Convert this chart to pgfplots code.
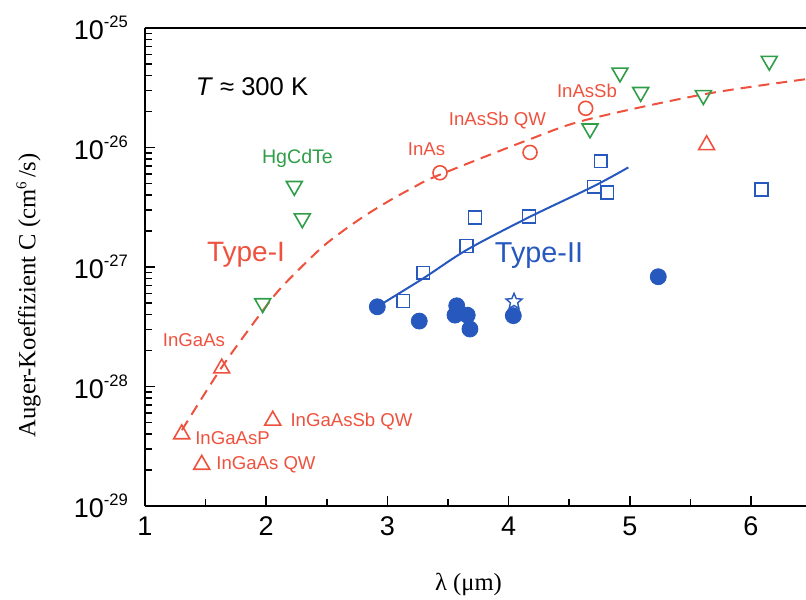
\documentclass[border=0pt]{standalone}
\usepackage{pgfplots}
\pgfplotsset{compat=1.18}
\usepackage{fontspec}
\setmainfont{Liberation Sans}
\newfontfamily\tnr{Liberation Serif}

\definecolor{tred}{RGB}{238,82,62}
\definecolor{tgreen}{RGB}{48,158,72}
\definecolor{tblue}{RGB}{38,88,190}

% 10^n tick labels in the text font
\newcommand{\tenexp}[1]{10\raisebox{0.85ex}{\fontsize{8.3}{9}\selectfont #1}}

% open five-pointed star
\pgfdeclareplotmark{ostar}{%
  \pgfpathmoveto{\pgfpointpolar{90}{\pgfplotmarksize}}%
  \pgfpathlineto{\pgfpointpolar{126}{0.45\pgfplotmarksize}}%
  \pgfpathlineto{\pgfpointpolar{162}{\pgfplotmarksize}}%
  \pgfpathlineto{\pgfpointpolar{198}{0.45\pgfplotmarksize}}%
  \pgfpathlineto{\pgfpointpolar{234}{\pgfplotmarksize}}%
  \pgfpathlineto{\pgfpointpolar{270}{0.45\pgfplotmarksize}}%
  \pgfpathlineto{\pgfpointpolar{306}{\pgfplotmarksize}}%
  \pgfpathlineto{\pgfpointpolar{342}{0.45\pgfplotmarksize}}%
  \pgfpathlineto{\pgfpointpolar{18}{\pgfplotmarksize}}%
  \pgfpathlineto{\pgfpointpolar{54}{0.45\pgfplotmarksize}}%
  \pgfpathclose\pgfusepathqstroke}

\begin{document}
\begin{tikzpicture}
\begin{axis}[
    scale only axis, width=330.5pt, height=239pt,
    xmin=1, xmax=6.454,
    ymode=log, ymin=1e-29, ymax=1e-25,
    axis x line=box, axis y line=left,
    every non boxed y axis/.append style={y axis line style={-}},
    y axis line style={-},
    axis line style={line width=1pt, black},
    xtick={1,...,6}, minor x tick num=1,
    xtick pos=left, ytick pos=left,
    ytick={1e-29,1e-28,1e-27,1e-26,1e-25},
    yticklabels={\tenexp{-29},\tenexp{-28},\tenexp{-27},\tenexp{-26},\tenexp{-25}},
    tick align=inside,
    major tick length=5pt, minor tick length=3.5pt,
    tick style={line width=0.8pt, black},
    /pgf/number format/assume math mode=true,
    xticklabel style={font=\fontsize{13.5}{15}\selectfont, yshift=-2pt},
    yticklabel style={font=\fontsize{13.5}{15}\selectfont, xshift=-5pt},
    xlabel={\tnr λ (μm)},
    xlabel style={font=\fontsize{12.3}{14}\selectfont, at={(axis description cs:0.4894,-0.165)}, anchor=center},
    ylabel={\tnr Auger-Koeffizient C (cm\raisebox{0.8ex}{\fontsize{7.5}{9}\selectfont 6}\,/s)},
    ylabel style={font=\fontsize{12.3}{14}\selectfont, at={(axis description cs:-0.176,0.441)}, anchor=center},
]
% Type-I fit (dashed)
\addplot[tred, line width=1pt, dash pattern=on 5.5pt off 3.5pt, smooth] coordinates {
    (1.305,4.325e-29) (1.633,1.449e-28) (1.976,4.375e-28) (2.141,7.03e-28)
    (2.444,1.413e-27) (2.636,2.014e-27) (2.829,2.748e-27) (3.021,3.614e-27)
    (3.214,4.634e-27) (3.407,5.78e-27) (4.177,1.175e-26) (4.644,1.71e-26)
    (5.607,2.786e-26) (6.446,3.724e-26)
};
% Type-II fit
\addplot[tblue, line width=1pt, smooth] coordinates {
    (2.917,4.66e-28) (3.296,8.04e-28) (3.654,1.39e-27)
    (4.168,2.61e-27) (4.705,4.76e-27) (4.988,6.82e-27)
};
% red triangles (InGaAs family)
\addplot[only marks, mark=triangle, mark size=4.6pt, tred, line width=0.8pt] coordinates {
    (1.303,4.0e-29) (1.633,1.42e-28) (2.054,5.2e-29) (1.468,2.22e-29) (5.634,1.05e-26)
};
% red circles (InAs, InAsSb)
\addplot[only marks, mark=o, mark size=3.5pt, tred, line width=0.8pt] coordinates {
    (3.434,6.15e-27) (4.177,9.1e-27) (4.636,2.13e-26)
};
% green down triangles (HgCdTe)
\addplot[only marks, mark=triangle, mark size=4.6pt, tgreen, line width=0.8pt,
    every mark/.append style={rotate=180}] coordinates {
    (2.232,4.76e-27) (2.298,2.55e-27) (1.971,4.97e-28) (4.919,4.23e-26)
    (5.090,2.91e-26) (4.672,1.44e-26) (5.607,2.74e-26) (6.151,5.3e-26)
};
% blue open squares
\addplot[only marks, mark=square, mark size=3.2pt, tblue, line width=0.8pt] coordinates {
    (3.131,5.19e-28) (3.296,8.95e-28) (3.654,1.5e-27) (3.723,2.6e-27)
    (4.168,2.64e-27) (4.760,7.7e-27) (4.705,4.7e-27) (4.814,4.19e-27) (6.088,4.47e-27)
};
% blue filled circles
\addplot[only marks, mark=*, mark size=4pt, tblue, mark options={fill=tblue}] coordinates {
    (2.917,4.65e-28) (3.263,3.53e-28) (3.572,4.74e-28) (3.558,3.96e-28)
    (3.659,3.96e-28) (3.681,3.03e-28) (4.039,3.92e-28) (5.235,8.3e-28)
};
% blue open star
\addplot[only marks, mark=ostar, mark size=4.2pt, tblue, line width=0.7pt] coordinates {
    (4.045,5.13e-28)
};

\coordinate (bl) at (rel axis cs:0,0);
\coordinate (tr) at (rel axis cs:1,1);

\node[font=\fontsize{12.8}{14}\selectfont] at (axis cs:1.883,3.2e-26) {\textit{T} ≈ 300 K};
\node[tgreen, font=\fontsize{9.8}{11}\selectfont] at (axis cs:2.258,8.17e-27) {HgCdTe};
\node[tred, font=\fontsize{14}{16}\selectfont] at (axis cs:1.833,1.27e-27) {Type-I};
\node[tblue, font=\fontsize{14.4}{16}\selectfont] at (axis cs:4.251,1.24e-27) {Type-II};
\node[tred, font=\fontsize{9.3}{11}\selectfont] at (axis cs:1.404,2.47e-28) {InGaAs};
\node[tred, font=\fontsize{9.3}{11}\selectfont] at (axis cs:1.722,3.67e-29) {InGaAsP};
\node[tred, font=\fontsize{9.3}{11}\selectfont] at (axis cs:1.998,2.2e-29) {InGaAs QW};
\node[tred, font=\fontsize{9.3}{11}\selectfont] at (axis cs:2.704,5.1e-29) {InGaAsSb QW};
\node[tred, font=\fontsize{9.3}{11}\selectfont] at (axis cs:3.323,9.6e-27) {InAs};
\node[tred, font=\fontsize{9.3}{11}\selectfont] at (axis cs:3.908,1.68e-26) {InAsSb QW};
\node[tred, font=\fontsize{9.3}{11}\selectfont] at (axis cs:4.647,3.0e-26) {InAsSb};
\end{axis}
\pgfresetboundingbox
\path[use as bounding box] ([shift={(-72.5pt,-46.5pt)}]bl) rectangle ([shift={(0pt,14pt)}]tr);
\end{tikzpicture}
\end{document}
